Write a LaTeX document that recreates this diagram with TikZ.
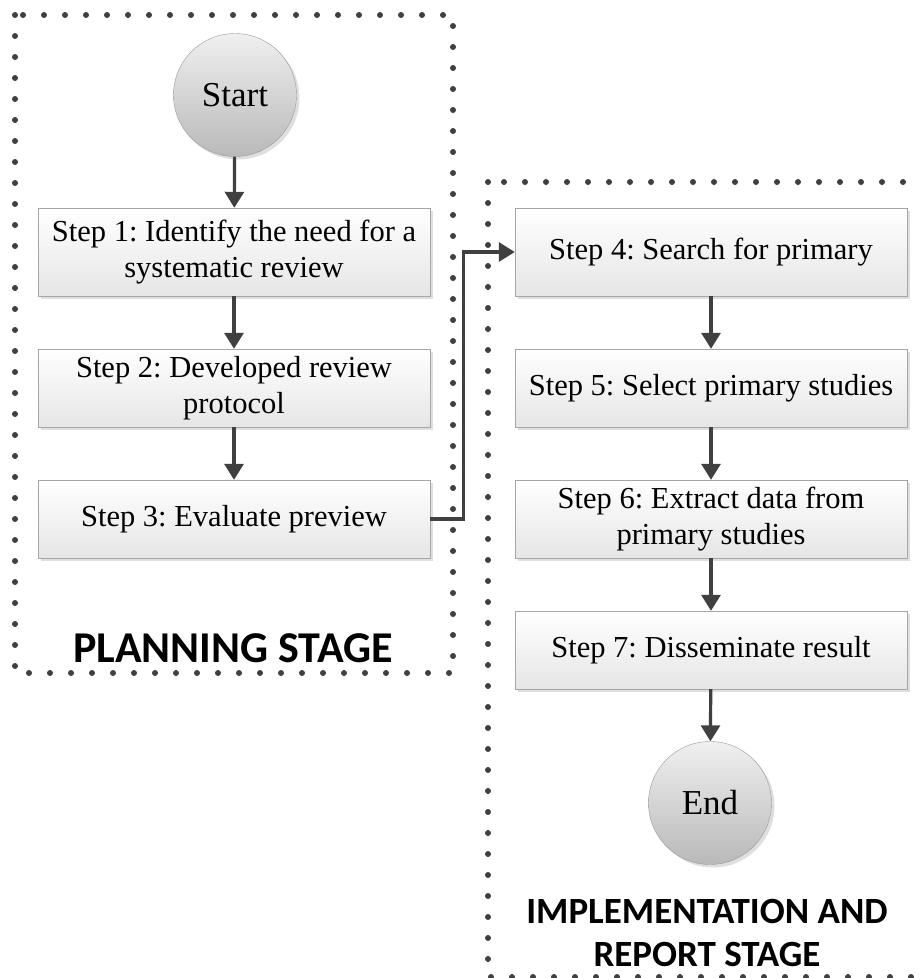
\documentclass[tikz,border=0pt]{standalone}
\usepackage{fontspec}
\setmainfont{Liberation Serif}
\newfontfamily\stagefont{Carlito}
\usetikzlibrary{arrows.meta,shadows}
\definecolor{linegray}{RGB}{64,64,64}
\frenchspacing

\begin{document}
\begin{tikzpicture}[x=1pt,y=-1pt,
  stepbox/.style={draw=gray!70,top color=white,bottom color=gray!20,
                  minimum width=392pt,minimum height=78pt,align=center,
                  font=\fontsize{30.5}{36}\selectfont,
                  drop shadow={opacity=0.25,shadow xshift=3pt,shadow yshift=-3pt}},
  term/.style={circle,draw=gray!80,top color=gray!12,bottom color=gray!55,
               minimum size=123pt,font=\fontsize{35}{40}\selectfont,
               drop shadow={opacity=0.25,shadow xshift=3pt,shadow yshift=-3pt}},
  ar/.style={-{Triangle[length=16pt,width=19pt]},line width=3.2pt,draw=linegray},
  stagebox/.style={draw=linegray,line width=6pt,line cap=round,dash pattern=on 0pt off 21pt},
  stage/.style={font=\stagefont\bfseries\fontsize{44}{43}\selectfont,align=center}
]
\clip (0,0) rectangle (919,978);
\fill[white] (0,0) rectangle (919,978);

% stage frames
\draw[stagebox] (15,15) rectangle (453,673);
\draw[stagebox] (488,182) rectangle (940,977);

% planning stage
\node[term] (start) at (235,95) {Start};
\node[stepbox,minimum height=88pt] (s1) at (234,252) {Step 1: Identify the need for a\\systematic review};
\node[stepbox] (s2) at (234,388) {Step 2: Developed review\\protocol};
\node[stepbox] (s3) at (234,519) {Step 3: Evaluate preview};
\node[stage] (plan) at (233,648) {PLANNING STAGE};

% implementation and report stage
\node[stepbox,minimum height=88pt] (s4) at (711,252) {Step 4: Search for primary};
\node[stepbox] (s5) at (711,388) {Step 5: Select primary studies};
\node[stepbox] (s6) at (711,519) {Step 6: Extract data from\\primary studies};
\node[stepbox] (s7) at (711,650) {Step 7: Disseminate result};
\node[term] (end) at (710,803) {End};
\node[stage,font=\stagefont\bfseries\fontsize{37}{43}\selectfont] (impl) at (707,933) {IMPLEMENTATION AND\\REPORT STAGE};

\draw[ar] (start) -- (s1);
\draw[ar] (s1) -- (s2);
\draw[ar] (s2) -- (s3);
\draw[ar] (s3.east) -- ++(33,0) |- (s4.west);
\draw[ar] (s4) -- (s5);
\draw[ar] (s5) -- (s6);
\draw[ar] (s6) -- (s7);
\draw[ar] (s7) -- (end);
\end{tikzpicture}
\end{document}
